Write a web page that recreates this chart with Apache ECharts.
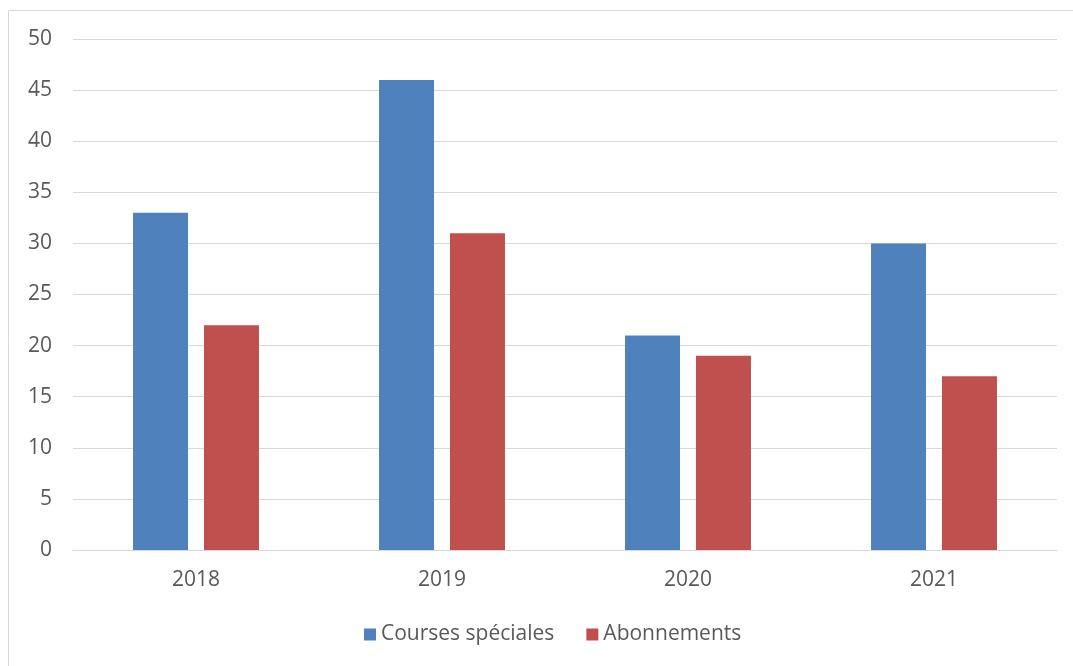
<!DOCTYPE html>
<html>
<head>
<meta charset="utf-8">
<script src="https://cdn.jsdelivr.net/npm/echarts@6/dist/echarts.min.js"></script>
<style>
  html, body { margin: 0; padding: 0; background: #fff; }
  #chart-div { width: 1073px; height: 666px; }
</style>
</head>
<body>
<div id="chart-div"></div>
<script>
// données du graphique
const years = ['2018', '2019', '2020', '2021']
const coursesSpeciales = [33, 46, 21, 30]
const abonnements = [22, 31, 19, 17]
const yTicks = { min: 0, max: 50, interval: 5 }

const textColor = '#595959'
const font = 'Open Sans'
const fontSize = 21

let myChart = echarts.init(document.getElementById('chart-div'))

const option = {
    animation: false,
    textStyle: { fontFamily: font },
    graphic: [{
        type: 'rect',
        shape: { x: 8.5, y: 10.5, width: 1070, height: 660 },
        style: { fill: 'none', stroke: '#D9D9D9', lineWidth: 1 },
        silent: true
    }],
    grid: { left: 73, right: 16, top: 39, bottom: 116 },
    legend: {
        top: 624,
        left: 364,
        padding: 0,
        itemWidth: 12,
        itemHeight: 12,
        itemGap: 32,
        icon: 'rect',
        textStyle: { color: textColor, fontSize: fontSize, fontFamily: font }
    },
    xAxis: {
        type: 'category',
        data: years,
        axisLine: { lineStyle: { color: '#D9D9D9', width: 1 } },
        axisTick: { show: false },
        axisLabel: { color: textColor, fontSize: fontSize, margin: 20 }
    },
    yAxis: {
        type: 'value',
        min: yTicks.min,
        max: yTicks.max,
        interval: yTicks.interval,
        axisLine: { show: false },
        axisTick: { show: false },
        axisLabel: { color: textColor, fontSize: fontSize, margin: 21, align: 'right' },
        splitLine: { lineStyle: { color: '#D9D9D9', width: 1 } }
    },
    series: [{
        name: 'Courses spéciales',
        type: 'bar',
        data: coursesSpeciales,
        barWidth: 55,
        barGap: '29%',
        itemStyle: { color: '#4F81BD' }
    }, {
        name: 'Abonnements',
        type: 'bar',
        data: abonnements,
        barWidth: 55,
        itemStyle: { color: '#C0504D' }
    }]
}

myChart.setOption(option)
</script>
</body>
</html>
